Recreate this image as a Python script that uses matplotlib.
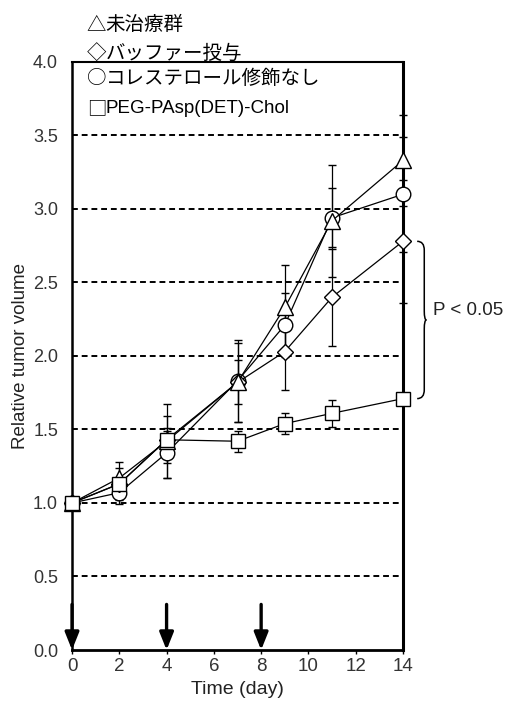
import matplotlib.pyplot as plt
import numpy as np
from matplotlib.path import Path
import matplotlib.patches as mpatches

# data
days = [0, 2, 4, 7, 9, 11, 14]
untreated = [1.00, 1.17, 1.42, 1.82, 2.33, 2.92, 3.33]
untreated_err = [0, 0.11, 0.25, 0.27, 0.29, 0.38, 0.31]
no_chol = [1.00, 1.07, 1.34, 1.83, 2.21, 2.94, 3.10]
no_chol_err = [0, 0.08, 0.17, 0.28, 0.22, 0.20, 0.39]
buffer = [1.00, 1.13, 1.43, 1.82, 2.03, 2.40, 2.78]
buffer_err = [0, 0.11, 0.16, 0.15, 0.26, 0.33, 0.42]
chol = [1.00, 1.13, 1.43, 1.42, 1.54, 1.61, 1.71]
chol_err = [0, 0.04, 0.06, 0.07, 0.07, 0.09, 0.03]

dose_days = [0, 4, 8]
legend_lines = ["△未治療群", "◇バッファー投与", "○コレステロール修飾なし", "□PEG-PAsp(DET)-Chol"]
grid_levels = [0.5, 1.0, 1.5, 2.0, 2.5, 3.0, 3.5]

plt.rcParams["font.family"] = ["Liberation Sans", "Noto Sans CJK JP", "DejaVu Sans"]

fig = plt.figure(figsize=(5.05, 7.04), dpi=100)
ax = fig.add_axes([0.1426, 0.0767, 0.6554, 0.8353])

# dashed horizontal guide lines
for lvl in grid_levels:
    ax.axhline(lvl, color="black", lw=1.4, linestyle=(0, (3, 2)), zorder=1)

# series (drawn in this order so overlaps look like the original)
series = [
    (no_chol, no_chol_err, "o", 10.5),
    (buffer, buffer_err, "D", 8),
    (untreated, untreated_err, "^", 11),
    (chol, chol_err, "s", 10),
]
for vals, err, mk, ms in series:
    ax.errorbar(
        days, vals, yerr=err,
        fmt="-", color="black", lw=0.9, elinewidth=0.9,
        capsize=3, capthick=0.9,
        marker=mk, markersize=ms, markerfacecolor="white",
        markeredgecolor="black", markeredgewidth=1.0,
        clip_on=False, zorder=3,
    )

# dosing arrows
for d in dose_days:
    ax.annotate(
        "", xy=(d, 0.0), xytext=(d, 0.31),
        arrowprops=dict(arrowstyle="-|>,head_width=0.3,head_length=0.75",
                        lw=2.4, color="black", mutation_scale=14,
                        shrinkA=0, shrinkB=0),
        annotation_clip=False, zorder=4,
    )

# brace for the significance mark
def brace(x, y_top, y_bot, w=0.3, r=0.06):
    ym = (y_top + y_bot) / 2
    verts = [
        (x, y_top), (x + w, y_top), (x + w, y_top - r),
        (x + w, ym + r),
        (x + w, ym), (x + w * 1.3, ym),
        (x + w, ym), (x + w, ym - r),
        (x + w, y_bot + r),
        (x + w, y_bot), (x, y_bot),
    ]
    codes = [Path.MOVETO, Path.CURVE3, Path.CURVE3,
             Path.LINETO,
             Path.CURVE3, Path.CURVE3,
             Path.CURVE3, Path.CURVE3,
             Path.LINETO,
             Path.CURVE3, Path.CURVE3]
    return mpatches.PathPatch(Path(verts, codes), fill=False, lw=1.1,
                              color="black", clip_on=False)

ax.add_patch(brace(14.6, buffer[-1], chol[-1]))
ax.text(15.25, 2.31, "P < 0.05", fontsize=13.5, va="center", ha="left",
        color="#222222")

# legend as plain text lines above the plot
legend_y = [0.965, 0.924, 0.888, 0.846]
for txt, yy in zip(legend_lines, legend_y):
    latin = txt.startswith("□")
    fig.text(0.172, yy, txt[0], fontsize=14, va="center", ha="left",
             family=["Noto Sans CJK JP"])
    fig.text(0.172 + 0.037, yy, txt[1:], fontsize=13.5 if latin else 14,
             va="center", ha="left",
             family=["Liberation Sans"] if latin else ["Noto Sans CJK JP"])

ax.set_xlim(0, 14)
ax.set_ylim(0, 4)
ax.set_xticks(range(0, 15, 2))
ax.set_yticks(np.arange(0, 4.01, 0.5))
ax.set_yticklabels([f"{v:.1f}" for v in np.arange(0, 4.01, 0.5)])
ax.tick_params(axis="x", direction="out", length=3, width=1, labelsize=13.5,
               labelcolor="#333333", pad=3)
ax.tick_params(axis="y", length=0, labelsize=13, labelcolor="#333333", pad=10)

ax.set_xlabel("Time (day)", fontsize=14, color="#222222", labelpad=4)
ax.set_ylabel("Relative tumor volume", fontsize=13.5, color="#222222", labelpad=3)

for side, lw in [("left", 1.8), ("right", 2.2), ("top", 1.5), ("bottom", 2.0)]:
    ax.spines[side].set_linewidth(lw)
    ax.spines[side].set_zorder(2)

fig.savefig("out.png", dpi=100)
